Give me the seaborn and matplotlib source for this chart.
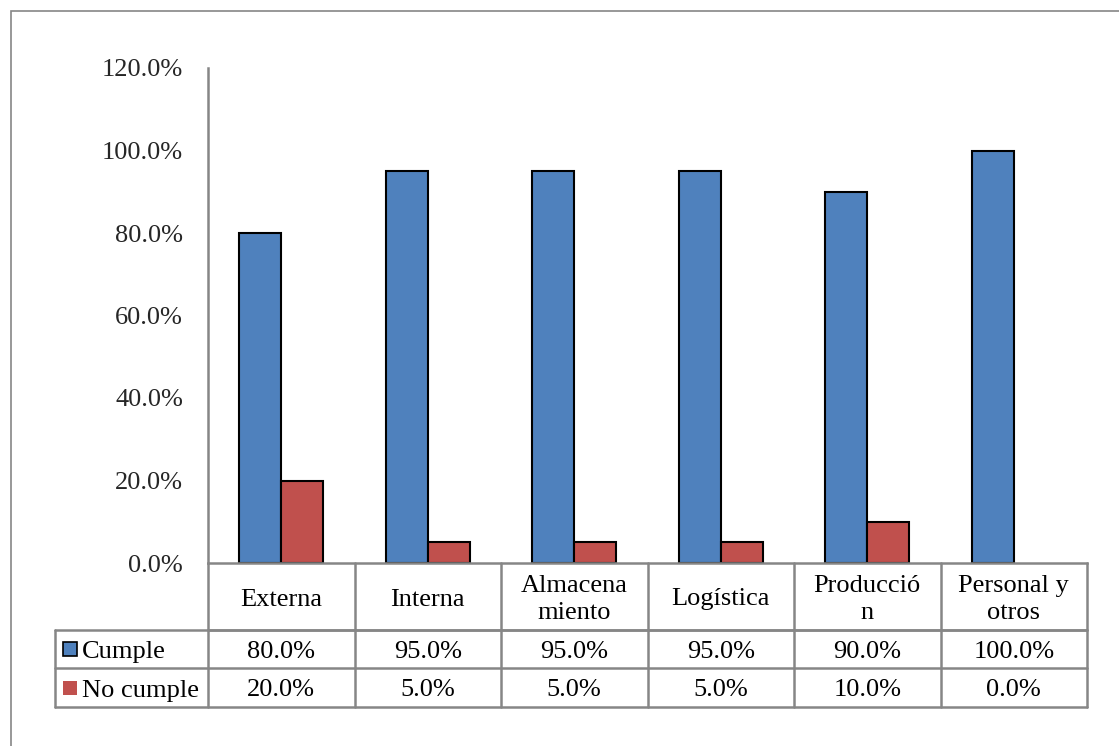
import matplotlib
matplotlib.use("Agg")
import matplotlib.pyplot as plt
import seaborn as sns
from pandas import DataFrame
from matplotlib.patches import Rectangle
from matplotlib.ticker import PercentFormatter
from matplotlib.transforms import blended_transform_factory

categories = ["Externa", "Interna", "Almacena\nmiento", "Logística", "Producció\nn", "Personal y\notros"]
series = ["Cumple", "No cumple"]
cumple = [0.80, 0.95, 0.95, 0.95, 0.90, 1.00]
no_cumple = [0.20, 0.05, 0.05, 0.05, 0.10, 0.00]
colors = {"Cumple": "#4F81BD", "No cumple": "#C0504D"}
GRID = "#868686"

sns.set_theme(style="white")
plt.rcParams['font.family'] = ['Liberation Serif', 'DejaVu Serif']
FS = 19

df = DataFrame({
    "cat": categories * 2,
    "serie": [series[0]] * 6 + [series[1]] * 6,
    "val": cumple + no_cumple,
})

W, H = 1119, 746
fig = plt.figure(figsize=(W / 100, H / 100), dpi=100)
# plot area in pixels: x 208..1087, y 68..563
ax = fig.add_axes([208 / W, 1 - 563 / H, (1087 - 208) / W, (563 - 68) / H])

sns.barplot(data=df, x="cat", y="val", hue="serie", hue_order=series,
            order=categories, palette=colors, saturation=1, width=0.573, gap=0,
            edgecolor="black", linewidth=1.5, ax=ax, legend=False)
# Excel does not draw empty bars
for p in ax.patches:
    if p.get_height() == 0:
        p.set_visible(False)

ax.set_xlim(-0.5, 5.5)
ax.set_ylim(0, 1.2)
ax.set_yticks([0, 0.2, 0.4, 0.6, 0.8, 1.0, 1.2])
ax.yaxis.set_major_formatter(PercentFormatter(1.0, decimals=1))
ax.tick_params(axis="y", length=0, pad=18, labelsize=FS)
for t in ax.get_yticklabels():
    t.set_verticalalignment("center_baseline")
ax.set_xticks([])
ax.set(xlabel="", ylabel="")
for s in ["top", "right"]:
    ax.spines[s].set_visible(False)
for s in ["left", "bottom"]:
    ax.spines[s].set_color(GRID)
    ax.spines[s].set_linewidth(1.8)

# data table under the chart (axes fraction coordinates)
ah = 563 - 68
aw = 1087 - 208
def fy(py):
    return (563 - py) / ah
def fx(px):
    return (px - 208) / aw

y_head, y_r1, y_r2 = fy(630), fy(668), fy(707)
x_left = fx(55)
lk = dict(color=GRID, lw=1.8, transform=ax.transAxes, clip_on=False)
ax.plot([0, 1], [y_head, y_head], **lk)
for yy in (y_head, y_r1, y_r2):
    ax.plot([x_left, 1], [yy, yy], **lk)
ax.plot([x_left, x_left], [y_head, y_r2], **lk)
for k in range(7):
    ax.plot([k / 6, k / 6], [0, y_r2], **lk)

dy = 3 / ah  # small downward nudge of cell text
trans = blended_transform_factory(ax.transData, ax.transAxes)
for i, cat in enumerate(categories):
    ax.text(i, (0 + y_head) / 2 - dy, cat, transform=trans, ha="center", va="center",
            fontsize=FS, linespacing=1.3, color="black")
    ax.text(i, (y_head + y_r1) / 2 - dy, f"{cumple[i] * 100:.1f}%", transform=trans,
            ha="center", va="center", fontsize=FS, color="black")
    ax.text(i, (y_r1 + y_r2) / 2 - dy, f"{no_cumple[i] * 100:.1f}%", transform=trans,
            ha="center", va="center", fontsize=FS, color="black")

# legend keys inside the table
for name, yc, ec in [(series[0], (y_head + y_r1) / 2, "black"),
                     (series[1], (y_r1 + y_r2) / 2, "none")]:
    kw, kh = 14 / aw, 14 / ah
    ax.add_patch(Rectangle((fx(63), yc - kh / 2), kw, kh, facecolor=colors[name],
                           edgecolor=ec, lw=1.2, transform=ax.transAxes, clip_on=False))
    ax.text(fx(82), yc - dy, name, transform=ax.transAxes, ha="left", va="center",
            fontsize=FS, color="black")

# outer chart border (cut off at right and bottom)
fig.add_artist(Rectangle((11 / W, -0.05), 1.1, 1 - 11 / H + 0.05, fill=False,
                         edgecolor=GRID, lw=1.2, transform=fig.transFigure))

fig.savefig("out.png", dpi=100)
